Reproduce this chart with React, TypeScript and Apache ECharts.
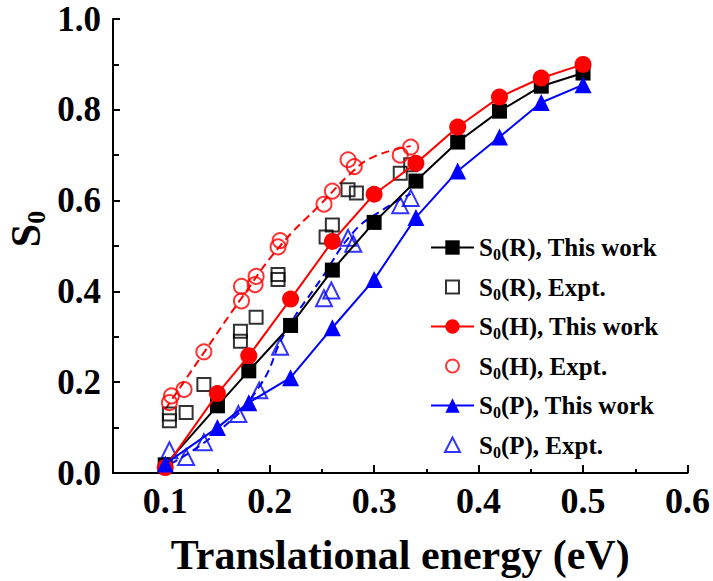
import React, { useEffect, useRef } from "react";
import * as echarts from "echarts";

const FONT = "'Liberation Serif', 'Times New Roman', serif";

// This work (theory)
const energy = [0.1, 0.15, 0.18, 0.22, 0.26, 0.3, 0.34, 0.38, 0.42, 0.46, 0.5];
const s0R = [0.018, 0.148, 0.225, 0.325, 0.447, 0.552, 0.643, 0.729, 0.797, 0.852, 0.881];
const s0H = [0.012, 0.175, 0.258, 0.383, 0.51, 0.614, 0.682, 0.762, 0.828, 0.87, 0.9];
const s0P = [0.02, 0.1, 0.155, 0.21, 0.32, 0.426, 0.563, 0.665, 0.74, 0.816, 0.855];

// Experiment
const exptR_E = [0.104, 0.104, 0.12, 0.137, 0.172, 0.172, 0.187, 0.208, 0.208, 0.254, 0.26, 0.275, 0.283, 0.325, 0.335];
const exptR_S = [0.115, 0.13, 0.133, 0.195, 0.29, 0.312, 0.343, 0.426, 0.437, 0.52, 0.546, 0.624, 0.617, 0.66, 0.679];

const exptH_E = [0.104, 0.106, 0.118, 0.137, 0.173, 0.173, 0.186, 0.187, 0.208, 0.21, 0.252, 0.26, 0.275, 0.281, 0.325, 0.335];
const exptH_S = [0.155, 0.17, 0.184, 0.267, 0.379, 0.411, 0.415, 0.433, 0.498, 0.512, 0.592, 0.621, 0.69, 0.675, 0.7, 0.718];

const exptP_E = [0.104, 0.12, 0.137, 0.17, 0.19, 0.21, 0.252, 0.259, 0.275, 0.28, 0.325, 0.335];
const exptP_S = [0.05, 0.035, 0.068, 0.13, 0.182, 0.278, 0.385, 0.402, 0.518, 0.505, 0.59, 0.606];

const guideH_E = [0.1, 0.137, 0.173, 0.21, 0.25, 0.28, 0.3, 0.335];
const guideH_S = [0.14, 0.265, 0.385, 0.5, 0.595, 0.665, 0.697, 0.72];
const guideP_E = [0.105, 0.15, 0.19, 0.215, 0.25, 0.28, 0.305, 0.335];
const guideP_S = [0.02, 0.09, 0.19, 0.31, 0.43, 0.53, 0.575, 0.615];

// Axis ticks
const xMajorTicks = [0.1, 0.2, 0.3, 0.4, 0.5, 0.6];
const xMinorTicks = [0.15, 0.25, 0.35, 0.45, 0.55];

const names = [
  "S0(R), This work",
  "S0(R), Expt.",
  "S0(H), This work",
  "S0(H), Expt.",
  "S0(P), This work",
  "S0(P), Expt.",
];

const BLACK = "#000000";
const RED = "#ff0000";
const BLUE = "#0000ff";

const pairs = (xs: number[], ys: number[]) => xs.map((x, i) => [x, ys[i]]);

export default function App() {
  const ref = useRef<HTMLDivElement>(null);

  useEffect(() => {
    document.body.style.margin = "0";
    if (!ref.current) return;
    const chart = echarts.init(ref.current, undefined, { renderer: "svg" });

    const labelFont = { fontFamily: FONT, fontWeight: "bold" as const, color: "#000" };

    const option: any = {
      animation: false,
      backgroundColor: "#ffffff",
      grid: { left: 113, right: 24, top: 19, bottom: 104.5, containLabel: false },
      xAxis: [
        {
          type: "value",
          min: 0.05,
          max: 0.6,
          position: "bottom",
          axisLine: { show: true, onZero: false, lineStyle: { color: "#000", width: 2 } },
          axisTick: { show: true, inside: true, length: 8, lineStyle: { color: "#000", width: 2 }, customValues: xMajorTicks },
          axisLabel: {
            ...labelFont,
            fontSize: 36,
            margin: 10,
            customValues: xMajorTicks,
            formatter: (v: number) => v.toFixed(1),
          },
          splitLine: { show: false },
          name: "Translational energy (eV)",
          nameLocation: "middle",
          nameGap: 61,
          nameTextStyle: { ...labelFont, fontSize: 42 },
        },
        {
          type: "value",
          min: 0.05,
          max: 0.6,
          position: "bottom",
          axisLine: { show: false, onZero: false },
          axisTick: { show: true, inside: true, length: 4, lineStyle: { color: "#000", width: 2 }, customValues: xMinorTicks },
          axisLabel: { show: false },
          splitLine: { show: false },
        },
      ],
      yAxis: {
        type: "value",
        min: 0,
        max: 1,
        interval: 0.2,
        axisLine: { show: true, lineStyle: { color: "#000", width: 2 } },
        axisTick: { show: true, inside: true, length: 7, lineStyle: { color: "#000", width: 2 } },
        minorTick: { show: true, splitNumber: 2, length: 6, lineStyle: { color: "#000", width: 2 } },
        axisLabel: { ...labelFont, fontSize: 35, lineHeight: 30, margin: 12, formatter: (v: number) => v.toFixed(1) },
        splitLine: { show: false },
        minorSplitLine: { show: false },
      },
      legend: {
        orient: "vertical",
        left: 425,
        top: 230,
        itemWidth: 43,
        itemHeight: 18,
        itemGap: 12,
        selectedMode: false,
        data: [
          { name: names[0] },
          { name: names[1], icon: "path://M0,0M43,18M15,2.5h13v13h-13z" },
          { name: names[2] },
          { name: names[3], icon: "path://M0,0M43,18M28,9a6.5,6.5 0 1,1 -13,0a6.5,6.5 0 1,1 13,0z" },
          { name: names[4] },
          { name: names[5], icon: "path://M0,0M43,18M21.5,1.5L29,16H14z" },
        ],
        formatter: (name: string) => `{s|S}{sub|0}{s|${name.slice(2)}}`,
        textStyle: {
          rich: {
            s: { fontFamily: FONT, fontWeight: "bold", fontSize: 25, color: "#000", lineHeight: 30 },
            sub: { fontFamily: FONT, fontWeight: "bold", fontSize: 16, color: "#000", lineHeight: 10, verticalAlign: "bottom" },
          },
        },
      },
      graphic: [
        {
          type: "text",
          x: 26,
          y: 229,
          rotation: Math.PI / 2,
          style: {
            text: "{s|S}{sub|0}",
            align: "center",
            verticalAlign: "middle",
            rich: {
              s: { fontFamily: FONT, fontWeight: "bold", fontSize: 42, fill: "#000", lineHeight: 46 },
              sub: { fontFamily: FONT, fontWeight: "bold", fontSize: 26, fill: "#000", lineHeight: 18, verticalAlign: "bottom" },
            },
          },
        },
      ],
      series: [
        {
          name: "guideH",
          type: "line",
          data: pairs(guideH_E, guideH_S),
          smooth: true,
          showSymbol: false,
          symbol: "none",
          silent: true,
          lineStyle: { color: RED, width: 2, type: [8, 5] },
          z: 1,
        },
        {
          name: "guideP",
          type: "line",
          data: pairs(guideP_E, guideP_S),
          smooth: true,
          showSymbol: false,
          symbol: "none",
          silent: true,
          lineStyle: { color: BLUE, width: 2, type: [8, 5] },
          z: 1,
        },
        {
          name: names[1],
          type: "scatter",
          data: pairs(exptR_E, exptR_S),
          symbol: "rect",
          symbolSize: 13,
          itemStyle: { color: "rgba(0,0,0,0)", borderColor: BLACK, borderWidth: 2 },
          z: 2,
        },
        {
          name: names[3],
          type: "scatter",
          data: pairs(exptH_E, exptH_S),
          symbol: "circle",
          symbolSize: 15,
          itemStyle: { color: "rgba(0,0,0,0)", borderColor: RED, borderWidth: 2 },
          z: 2,
        },
        {
          name: names[5],
          type: "scatter",
          data: pairs(exptP_E, exptP_S),
          symbol: "triangle",
          symbolSize: 16,
          itemStyle: { color: "rgba(0,0,0,0)", borderColor: BLUE, borderWidth: 2 },
          z: 2,
        },
        {
          name: names[0],
          type: "line",
          data: pairs(energy, s0R),
          symbol: "rect",
          symbolSize: 15,
          lineStyle: { color: BLACK, width: 2 },
          itemStyle: { color: BLACK },
          z: 3,
        },
        {
          name: names[2],
          type: "line",
          data: pairs(energy, s0H),
          symbol: "circle",
          symbolSize: 17,
          lineStyle: { color: RED, width: 2 },
          itemStyle: { color: RED },
          z: 4,
        },
        {
          name: names[4],
          type: "line",
          data: pairs(energy, s0P),
          symbol: "triangle",
          symbolSize: 17,
          lineStyle: { color: BLUE, width: 2 },
          itemStyle: { color: BLUE },
          z: 5,
        },
      ],
    };

    chart.setOption(option);
    return () => chart.dispose();
  }, []);

  return <div ref={ref} style={{ width: 713, height: 581 }} />;
}
